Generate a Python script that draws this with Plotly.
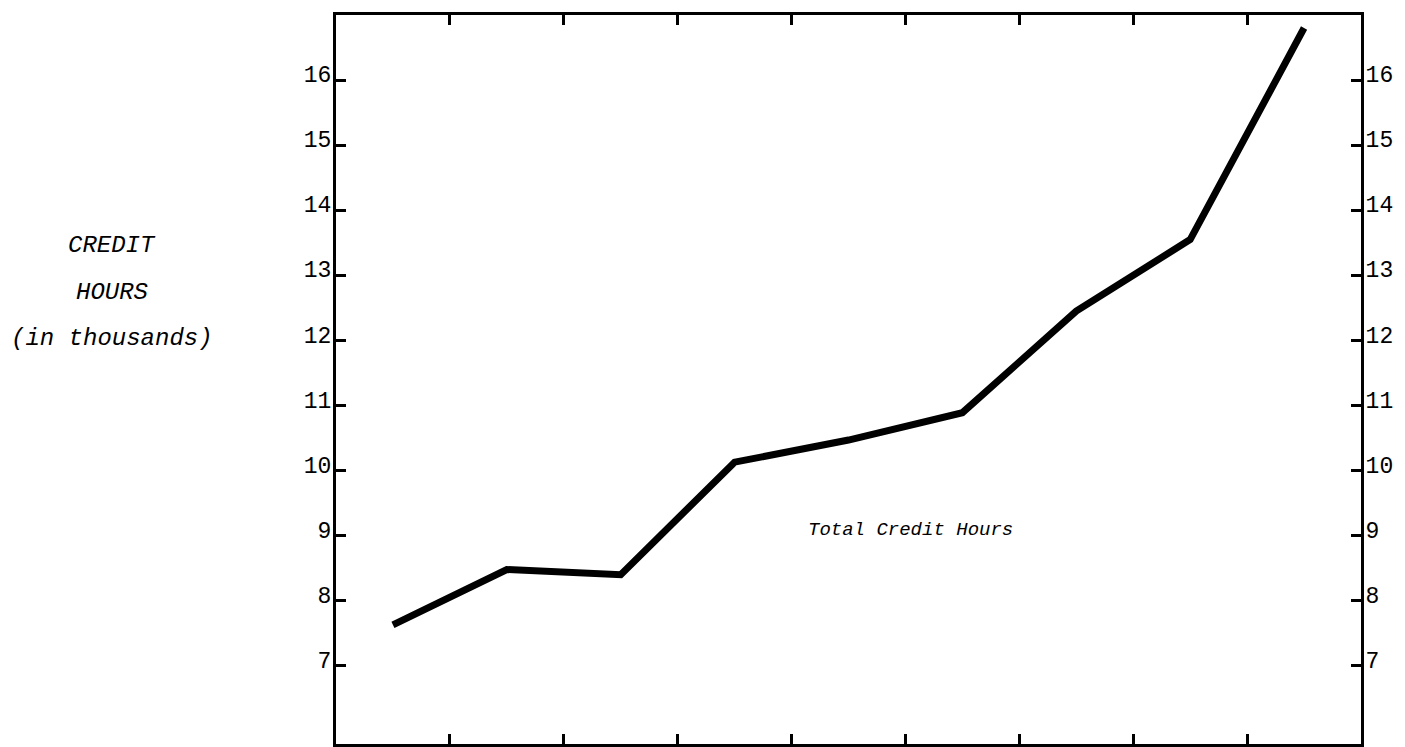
import plotly.graph_objects as go

# nine reporting periods (no labels printed on the x axis)
periods = [1, 2, 3, 4, 5, 6, 7, 8, 9]
# total credit hours, in thousands
credit_hours = [7.63, 8.48, 8.40, 10.13, 10.47, 10.89, 12.45, 13.55, 16.80]
y_ticks = [7, 8, 9, 10, 11, 12, 13, 14, 15, 16]

FONT = "Liberation Mono"
y_range = [5.80, 17.0]
x_range = [periods[0] - 0.5, periods[-1] + 0.5]
x_bounds = [p + 0.5 for p in periods[:-1]]

# the page body adds an 8px offset, so the figure is a bit smaller than the window
W, H = 1397, 739
L, R, T, B = 328, 44, 7, 3
PW, PH = W - L - R, H - T - B


def paper_x(px):
    return (px - 8 - L) / PW


def paper_y(py):
    return 1 - (py - 8 - T) / PH


fig = go.Figure()
fig.add_trace(go.Scatter(
    x=periods,
    y=credit_hours,
    mode="lines",
    line=dict(color="black", width=7),
    hoverinfo="skip",
    showlegend=False,
))
# same series on the right-hand axis so that axis gets drawn
fig.add_trace(go.Scatter(
    x=periods,
    y=credit_hours,
    yaxis="y2",
    mode="lines",
    line=dict(color="rgba(0,0,0,0)", width=0),
    hoverinfo="skip",
    showlegend=False,
))

axis_common = dict(
    showgrid=False,
    zeroline=False,
    showline=True,
    linecolor="black",
    linewidth=3,
    ticks="inside",
    ticklen=10,
    tickwidth=2.5,
    tickcolor="black",
)

fig.update_layout(
    width=W,
    height=H,
    margin=dict(l=L, r=R, t=T, b=B),
    paper_bgcolor="white",
    plot_bgcolor="white",
    font=dict(family=FONT, color="black"),
    xaxis=dict(
        range=x_range,
        tickvals=x_bounds,
        showticklabels=False,
        mirror="ticks",
        **axis_common,
    ),
    yaxis=dict(
        range=y_range,
        tickvals=y_ticks,
        ticktext=[str(v) for v in y_ticks],
        tickfont=dict(family=FONT, size=23),
        ticklabelstandoff=-3,
        ticklabelshift=-6,
        **axis_common,
    ),
    yaxis2=dict(
        range=y_range,
        overlaying="y",
        side="right",
        tickvals=y_ticks,
        ticktext=[str(v) for v in y_ticks],
        tickfont=dict(family=FONT, size=23),
        ticklabelstandoff=-3,
        ticklabelshift=-6,
        **axis_common,
    ),
)

# left-hand axis caption, three centred lines
for txt, yy in [("CREDIT", 245), ("HOURS", 292), ("(in thousands)", 338)]:
    fig.add_annotation(
        text=f"<i>{txt}</i>",
        xref="paper", yref="paper",
        x=paper_x(112), y=paper_y(yy),
        xanchor="center", yanchor="middle",
        showarrow=False,
        font=dict(family=FONT, size=24, color="black"),
    )

fig.add_annotation(
    text="<i>Total Credit Hours</i>",
    xref="paper", yref="paper",
    x=paper_x(910), y=paper_y(530),
    xanchor="center", yanchor="middle",
    showarrow=False,
    font=dict(family=FONT, size=19, color="black"),
)

fig.write_html("out.html")
